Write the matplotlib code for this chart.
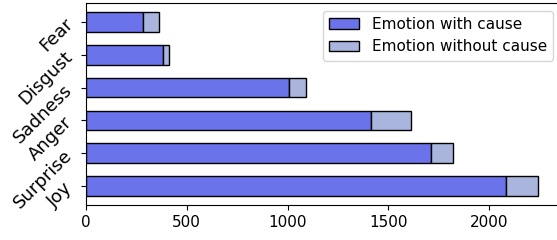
import numpy as np
import matplotlib.pyplot as plt

# emotion categories, bottom to top
emotions = ["Joy", "Surprise", "Anger", "Sadness", "Disgust", "Fear"]
with_cause = [2086, 1714, 1413, 1007, 382, 284]
without_cause = [157, 107, 202, 86, 30, 80]

fig = plt.figure(figsize=(5.57, 2.4), dpi=100)
ax = fig.add_axes([0.1544, 0.146, 0.852, 0.8415])

y = np.arange(len(emotions))
ax.barh(y, with_cause, height=0.6, color="#6b73ea", edgecolor="black",
        linewidth=1, label="Emotion with cause")
ax.barh(y, without_cause, height=0.6, left=with_cause, color="#a9b5dd",
        edgecolor="black", linewidth=1, label="Emotion without cause")

ax.set_yticks(y)
ax.set_yticklabels(emotions, rotation=45, fontsize=13)
ax.tick_params(axis="x", labelsize=11)
ax.set_xticks([0, 500, 1000, 1500, 2000])
ax.set_xlim(0, 2355)
ax.set_ylim(-0.58, 5.58)
ax.legend(loc="upper right", fontsize=11)

fig.savefig("out.png", dpi=100)
